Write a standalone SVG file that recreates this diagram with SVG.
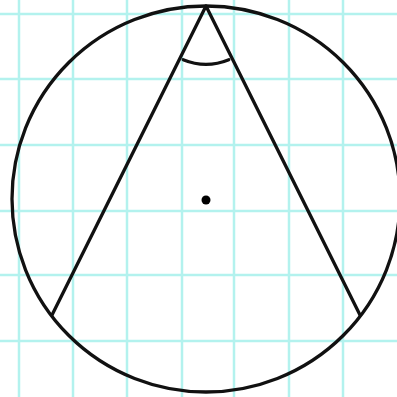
<svg xmlns="http://www.w3.org/2000/svg" width="397" height="397" viewBox="0 0 397 397">
<style>
.grid{stroke:#a6f0ec;stroke-width:2.5;opacity:0.85}
.ink{stroke:#111;stroke-width:3.3;fill:none;stroke-linecap:round}
</style>
<rect width="397" height="397" fill="#ffffff"/>
<g id="grid" class="grid">
<line x1="19" y1="0" x2="19" y2="397"/>
<line x1="73" y1="0" x2="73" y2="397"/>
<line x1="127" y1="0" x2="127" y2="397"/>
<line x1="182" y1="0" x2="182" y2="397"/>
<line x1="234" y1="0" x2="234" y2="397"/>
<line x1="289" y1="0" x2="289" y2="397"/>
<line x1="343" y1="0" x2="343" y2="397"/>
<line x1="0" y1="14" x2="397" y2="14"/>
<line x1="0" y1="79" x2="397" y2="79"/>
<line x1="0" y1="145" x2="397" y2="145"/>
<line x1="0" y1="211" x2="397" y2="211"/>
<line x1="0" y1="275" x2="397" y2="275"/>
<line x1="0" y1="341" x2="397" y2="341"/>
</g>
<g id="circle">
<ellipse class="ink" cx="206" cy="199" rx="194" ry="193"/>
</g>
<g id="connectors">
<polyline class="ink" points="52,315 206,6 360,315" stroke-linejoin="round"/>
<path class="ink" d="M 183.2 59.7 A 60 60 0 0 0 228.8 59.7"/>
</g>
<g id="center">
<circle cx="206" cy="200" r="4.5" fill="#000"/>
</g>
</svg>
